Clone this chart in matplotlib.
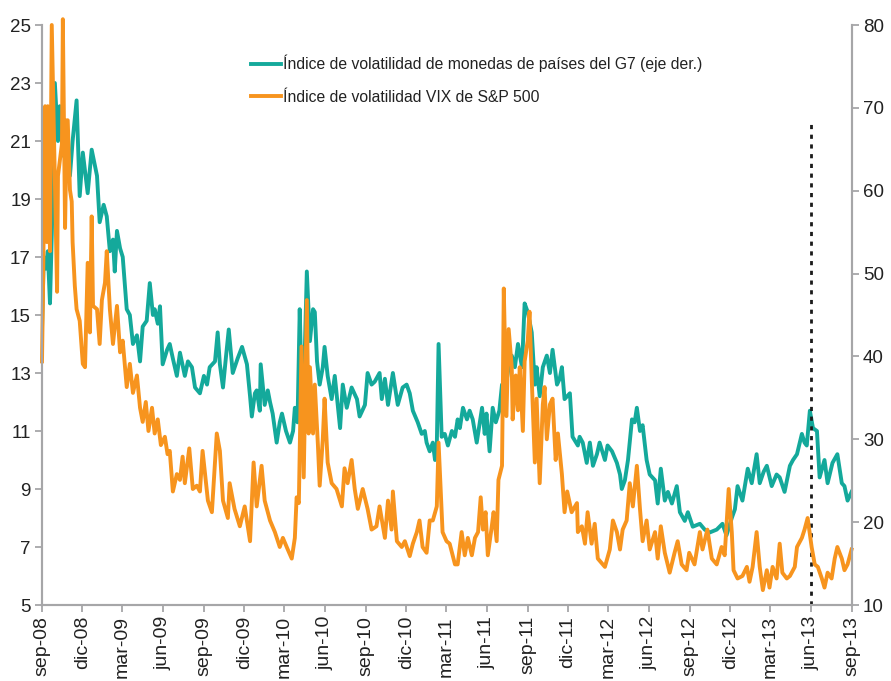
import matplotlib
matplotlib.use("Agg")
import matplotlib.pyplot as plt
import pandas as pd

plt.rcParams['font.family'] = ['Liberation Sans', 'DejaVu Sans']

# ---------------- data ----------------
g7_dates = [
 "2008-09-01","2008-09-05","2008-09-10","2008-09-14","2008-09-19","2008-09-26","2008-09-30","2008-10-07","2008-10-11","2008-10-18",
 "2008-10-25","2008-11-03","2008-11-09","2008-11-18","2008-11-25","2008-12-02","2008-12-13","2008-12-22","2009-01-03","2009-01-09",
 "2009-01-18","2009-01-25","2009-02-01","2009-02-08","2009-02-12","2009-02-17","2009-02-24","2009-03-02","2009-03-11","2009-03-18",
 "2009-03-25","2009-04-03","2009-04-10","2009-04-16","2009-04-25","2009-05-02","2009-05-09","2009-05-13","2009-05-20","2009-05-25",
 "2009-05-31","2009-06-10","2009-06-16","2009-06-23","2009-07-02","2009-07-09","2009-07-20","2009-07-27","2009-08-05","2009-08-12",
 "2009-08-23","2009-09-01","2009-09-08","2009-09-14","2009-09-26","2009-10-02","2009-10-07","2009-10-14","2009-10-21","2009-10-27",
 "2009-11-05","2009-11-16","2009-11-26","2009-12-07","2009-12-14","2009-12-18","2009-12-25","2009-12-29","2010-01-05","2010-01-07",
 "2010-01-12","2010-01-16","2010-01-23","2010-01-28","2010-02-03","2010-02-12","2010-02-19","2010-02-24","2010-03-05","2010-03-14",
 "2010-03-21","2010-03-25","2010-03-31","2010-04-05","2010-04-09","2010-04-16","2010-04-21","2010-04-28","2010-05-05","2010-05-09",
 "2010-05-14","2010-05-20","2010-05-27","2010-05-31","2010-06-07","2010-06-16","2010-06-23","2010-07-05","2010-07-11","2010-07-20",
 "2010-07-31","2010-08-12","2010-08-18","2010-08-30","2010-09-05","2010-09-14","2010-09-21","2010-10-02","2010-10-07","2010-10-14",
 "2010-10-21","2010-11-01","2010-11-12","2010-11-23","2010-12-02","2010-12-09","2010-12-16","2010-12-27","2011-01-05","2011-01-12",
 "2011-01-16","2011-01-23","2011-01-30","2011-02-04","2011-02-08","2011-02-12","2011-02-19","2011-02-26","2011-03-05","2011-03-14",
 "2011-03-21","2011-03-27","2011-04-01","2011-04-08","2011-04-17","2011-04-23","2011-04-30","2011-05-09","2011-05-21","2011-05-27",
 "2011-05-31","2011-06-07","2011-06-14","2011-06-21","2011-06-29","2011-07-05","2011-07-11","2011-07-18","2011-07-22","2011-07-27",
 "2011-08-03","2011-08-10","2011-08-19","2011-08-25","2011-09-01","2011-09-10","2011-09-17","2011-09-21","2011-09-28","2011-10-05",
 "2011-10-14","2011-10-21","2011-10-27","2011-11-06","2011-11-12","2011-11-17","2011-11-23","2011-11-29","2011-12-05","2011-12-11",
 "2011-12-23","2011-12-27","2012-01-03","2012-01-12","2012-01-19","2012-01-26","2012-02-04","2012-02-10","2012-02-22","2012-02-28",
 "2012-03-09","2012-03-20","2012-03-27","2012-03-31","2012-04-07","2012-04-14","2012-04-23","2012-04-29","2012-05-04","2012-05-11",
 "2012-05-17","2012-05-26","2012-06-02","2012-06-14","2012-06-20","2012-06-27","2012-07-06","2012-07-13","2012-07-22","2012-08-02",
 "2012-08-09","2012-08-20","2012-08-27","2012-09-07","2012-09-23","2012-10-04","2012-10-15","2012-10-31","2012-11-13","2012-11-22",
 "2012-12-04","2012-12-11","2012-12-17","2012-12-28","2013-01-09","2013-01-18","2013-01-29","2013-02-05","2013-02-14","2013-02-21",
 "2013-03-04","2013-03-15","2013-03-22","2013-04-02","2013-04-14","2013-04-21","2013-04-30","2013-05-11","2013-05-17","2013-05-22",
 "2013-05-29","2013-06-05","2013-06-14","2013-06-20","2013-07-01","2013-07-08","2013-07-19","2013-07-30","2013-08-09","2013-08-15",
 "2013-08-22","2013-08-31"]
g7_values = [
 14.5,17.0,16.6,17.2,15.4,19.5,23.0,21.0,22.2,20.5,
 21.5,19.8,21.0,22.4,19.1,20.6,19.2,20.7,19.8,18.2,
 18.8,18.4,17.2,17.6,16.5,17.9,17.3,17.0,15.2,15.0,
 14.0,14.3,13.4,14.6,14.8,16.1,15.0,15.2,14.7,15.3,
 13.3,13.8,14.0,13.5,12.9,13.7,12.9,13.4,13.2,12.5,
 12.3,12.9,12.6,13.2,13.4,14.4,13.3,12.5,13.6,14.5,
 13.0,13.5,13.9,13.3,12.2,11.5,12.3,12.4,11.7,13.3,
 12.5,11.9,12.4,12.0,11.6,10.6,11.3,11.6,11.0,10.6,
 11.0,11.8,11.3,15.2,12.6,13.5,16.5,14.1,15.2,15.1,
 13.4,12.6,13.2,13.9,12.9,12.1,12.9,11.1,12.6,11.8,
 12.5,12.1,11.5,11.9,13.0,12.6,12.7,13.0,12.1,12.8,
 11.9,13.0,11.9,12.5,12.6,12.3,11.7,11.3,10.9,11.0,
 10.6,10.3,10.6,10.0,10.5,14.0,10.8,10.9,10.5,11.0,
 10.8,11.4,11.1,11.8,11.4,11.7,11.4,10.6,11.8,10.9,
 11.6,10.3,11.8,11.3,11.7,12.6,12.3,13.0,13.4,13.6,
 13.2,14.0,13.2,15.4,15.1,14.4,12.6,13.2,12.2,13.2,
 13.6,13.0,13.8,12.6,12.8,13.2,12.1,12.2,12.3,10.8,
 10.5,10.8,10.6,9.9,10.6,9.8,10.2,10.6,10.0,10.5,
 10.3,9.9,9.5,9.0,9.3,10.0,11.4,11.3,11.8,11.0,
 11.2,10.0,9.5,9.3,8.5,9.7,8.6,8.9,8.5,9.1,
 8.2,7.9,8.2,7.7,7.8,7.6,7.5,7.6,7.8,7.4,
 8.0,8.3,9.1,8.6,9.7,9.2,10.2,9.2,9.6,9.8,
 9.1,9.5,9.4,8.9,9.8,10.0,10.2,10.9,10.6,10.5,
 11.7,11.1,11.0,9.4,10.0,9.2,9.9,10.2,9.2,9.1,
 8.6,8.9]

vix_dates = [
 "2008-09-01","2008-09-03","2008-09-08","2008-09-12","2008-09-14","2008-09-19","2008-09-23","2008-09-26","2008-09-30","2008-10-05",
 "2008-10-07","2008-10-16","2008-10-18","2008-10-23","2008-10-27","2008-10-29","2008-11-03","2008-11-07","2008-11-09","2008-11-14",
 "2008-11-18","2008-11-25","2008-12-02","2008-12-07","2008-12-13","2008-12-18","2008-12-22","2008-12-25","2009-01-03","2009-01-09",
 "2009-01-14","2009-01-21","2009-01-25","2009-02-01","2009-02-08","2009-02-17","2009-02-24","2009-03-02","2009-03-11","2009-03-18",
 "2009-03-25","2009-04-03","2009-04-10","2009-04-16","2009-04-23","2009-04-29","2009-05-07","2009-05-13","2009-05-20","2009-05-27",
 "2009-06-05","2009-06-11","2009-06-16","2009-06-23","2009-07-02","2009-07-09","2009-07-15","2009-07-20","2009-07-30","2009-08-07",
 "2009-08-16","2009-08-23","2009-08-29","2009-09-10","2009-09-19","2009-09-30","2009-10-07","2009-10-14","2009-10-25","2009-10-29",
 "2009-11-09","2009-11-21","2009-12-02","2009-12-14","2009-12-22","2009-12-29","2010-01-09","2010-01-16","2010-01-28","2010-02-08",
 "2010-02-19","2010-02-26","2010-03-09","2010-03-18","2010-03-25","2010-03-29","2010-04-03","2010-04-09","2010-04-14","2010-04-21",
 "2010-04-25","2010-04-28","2010-05-05","2010-05-09","2010-05-16","2010-05-20","2010-05-27","2010-05-31","2010-06-07","2010-06-16",
 "2010-06-27","2010-07-09","2010-07-15","2010-07-22","2010-07-31","2010-08-07","2010-08-14","2010-08-25","2010-09-05","2010-09-14",
 "2010-09-25","2010-10-02","2010-10-14","2010-10-21","2010-10-29","2010-11-01","2010-11-10","2010-11-21","2010-11-28","2010-12-09",
 "2010-12-16","2010-12-25","2010-12-31","2011-01-07","2011-01-16","2011-01-23","2011-01-30","2011-02-08","2011-02-12","2011-02-21",
 "2011-03-02","2011-03-09","2011-03-21","2011-03-27","2011-04-05","2011-04-12","2011-04-19","2011-04-28","2011-05-05","2011-05-12",
 "2011-05-18","2011-05-23","2011-05-29","2011-06-03","2011-06-12","2011-06-16","2011-06-23","2011-06-27","2011-07-05","2011-07-07",
 "2011-07-09","2011-07-15","2011-07-20","2011-07-27","2011-07-29","2011-08-05","2011-08-10","2011-08-14","2011-08-21","2011-08-25",
 "2011-09-01","2011-09-05","2011-09-10","2011-09-17","2011-09-21","2011-09-28","2011-10-05","2011-10-09","2011-10-14","2011-10-21",
 "2011-10-27","2011-11-03","2011-11-08","2011-11-17","2011-11-23","2011-11-29","2011-12-09","2011-12-21","2011-12-23","2012-01-01",
 "2012-01-08","2012-01-14","2012-01-23","2012-01-30","2012-02-06","2012-02-22","2012-03-04","2012-03-11","2012-03-20","2012-03-27",
 "2012-04-02","2012-04-11","2012-04-18","2012-04-25","2012-05-04","2012-05-11","2012-05-17","2012-05-26","2012-06-02","2012-06-14",
 "2012-06-20","2012-06-27","2012-07-06","2012-07-17","2012-07-28","2012-08-04","2012-08-13","2012-08-24","2012-08-30","2012-09-11",
 "2012-09-23","2012-09-29","2012-10-10","2012-10-20","2012-10-31","2012-11-11","2012-11-18","2012-11-22","2012-11-27","2012-12-04",
 "2012-12-08","2012-12-17","2012-12-28","2013-01-07","2013-01-13","2013-01-20","2013-01-29","2013-02-05","2013-02-12","2013-02-21",
 "2013-02-27","2013-03-06","2013-03-15","2013-03-22","2013-03-28","2013-04-07","2013-04-14","2013-04-25","2013-04-30","2013-05-11",
 "2013-05-17","2013-05-24","2013-06-02","2013-06-09","2013-06-16","2013-06-25","2013-07-01","2013-07-08","2013-07-17","2013-07-24",
 "2013-07-30","2013-08-09","2013-08-15","2013-08-22","2013-08-31"]
vix_values = [
 39.4,46.8,70.2,53.8,70.2,52.7,80.0,72.0,61.8,47.8,
 61.8,65.7,80.7,55.5,68.5,68.5,60.1,58.7,53.8,48.5,
 45.7,44.3,39.1,38.7,51.3,42.9,56.9,46.1,45.7,41.5,
 46.8,48.9,52.7,45.7,41.5,46.1,40.5,41.9,36.3,39.1,
 35.6,37.7,33.8,32.1,34.5,31.0,33.8,30.7,32.4,29.3,
 30.3,28.2,28.6,23.7,25.8,25.1,27.9,24.7,28.9,24.0,
 24.4,23.7,28.6,22.6,21.2,30.7,28.6,22.6,20.5,24.7,
 21.6,19.5,21.9,17.7,27.2,21.9,26.8,22.6,20.2,18.8,
 17.0,18.1,16.7,15.6,18.1,23.0,22.3,41.2,25.4,46.8,
 30.7,38.7,30.7,36.6,29.3,24.4,30.0,34.9,27.2,24.7,
 24.0,21.9,26.5,24.7,27.5,24.0,21.6,24.0,21.6,19.1,
 19.5,21.9,18.1,22.6,19.1,23.7,17.7,17.0,17.7,15.9,
 17.4,18.8,20.2,17.0,16.3,20.2,20.2,21.9,29.6,18.8,
 17.7,17.4,14.9,14.9,18.8,16.0,18.1,16.0,18.1,18.8,
 23.0,19.1,21.2,16.0,19.5,21.2,17.7,25.1,26.8,36.6,
 48.2,32.8,43.3,38.7,32.4,37.7,33.5,38.7,31.0,39.4,
 41.9,45.4,37.3,27.2,34.9,24.7,34.2,36.3,30.0,34.2,
 34.9,27.5,30.7,25.8,21.2,23.7,21.2,22.3,18.8,19.5,
 17.4,21.2,17.4,19.8,15.6,14.6,16.7,20.2,18.8,16.7,
 19.1,20.2,24.7,21.9,26.8,21.6,17.7,20.2,16.7,18.8,
 15.6,19.5,16.3,13.9,16.3,17.7,14.9,14.2,16.3,14.9,
 18.8,16.7,19.1,15.6,14.9,17.0,16.0,19.5,24.0,18.8,
 14.2,13.2,13.5,14.6,12.8,14.6,18.8,14.6,11.8,14.2,
 12.1,14.6,13.2,17.4,13.9,13.2,13.5,14.6,17.0,18.1,
 19.1,20.5,17.0,14.9,14.6,13.2,12.1,13.9,13.2,15.6,
 17.0,15.6,14.2,14.9,16.7]

tick_months = ["sep", "dic", "mar", "jun"]
event_date = "2013-06-01"
event_top = 21.75

label_g7 = "Índice de volatilidad de monedas de países del G7 (eje der.)"
label_vix = "Índice de volatilidad VIX de S&P 500"

teal = "#14A99B"
orange = "#F7941E"
grey = "#A6A6A8"
txt = "#222222"

# ---------------- figure ----------------
fig = plt.figure(figsize=(8.91, 6.81), dpi=100)
ax = fig.add_axes([42/891, 76/681, 810/891, 580/681])
ax2 = ax.twinx()

gd = pd.to_datetime(g7_dates)
vd = pd.to_datetime(vix_dates)

l1, = ax.plot(gd, g7_values, color=teal, lw=2.8, solid_joinstyle='round', label=label_g7)
l2, = ax2.plot(vd, vix_values, color=orange, lw=2.8, solid_joinstyle='round', label=label_vix,
               clip_on=False)
ax.vlines(pd.to_datetime(event_date), 5, event_top,
          colors="#1a1a1a", linestyles=(0, (1.5, 2.0)), lw=2.0, zorder=5)

xmin, xmax = pd.Timestamp("2008-09-01"), pd.Timestamp("2013-09-01")
ax.set_xlim(xmin, xmax)
ax.set_ylim(5, 25)
ax2.set_ylim(10, 80)
ax.set_yticks(range(5, 26, 2))
ax2.set_yticks(range(10, 81, 10))

ticks = pd.date_range(xmin, xmax, freq="3MS")
ax.set_xticks(ticks)
ax.set_xticklabels([f"{tick_months[i % 4]}-{t.strftime('%y')}" for i, t in enumerate(ticks)],
                   rotation=90, color=txt)

for a in (ax, ax2):
    a.spines['top'].set_visible(False)
    for s in ('left', 'right', 'bottom'):
        a.spines[s].set_color(grey)
        a.spines[s].set_linewidth(1.5)
    a.tick_params(axis='both', colors=grey, labelcolor=txt, length=5, width=1.3, labelsize=13.5)
ax.tick_params(axis='y', pad=3)
ax2.tick_params(axis='y', pad=3)
ax.tick_params(axis='x', labelsize=14, pad=3)

leg = ax2.legend(handles=[l1, l2], loc='upper left', bbox_to_anchor=(243/891, 1 - 47/681),
                 bbox_transform=fig.transFigure, frameon=False, fontsize=11.3,
                 handlelength=1.95, handletextpad=0.12, labelspacing=1.1, borderpad=0)
for t in leg.get_texts():
    t.set_color(txt)

fig.savefig("out.png", dpi=100)
